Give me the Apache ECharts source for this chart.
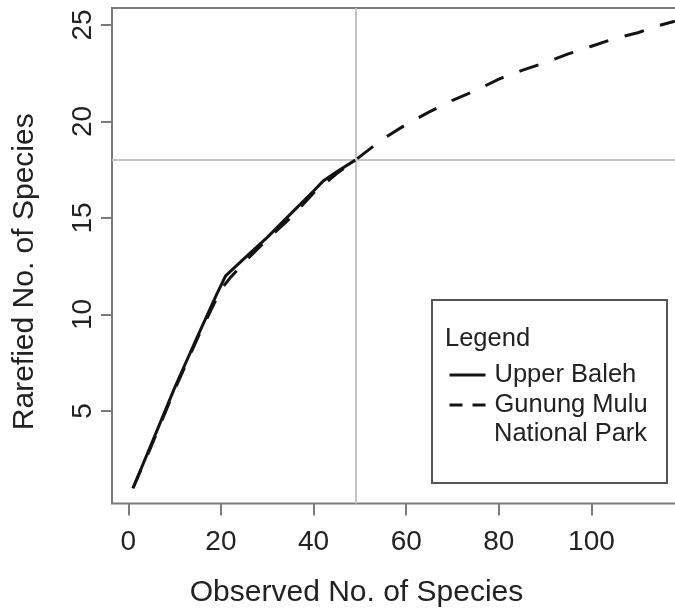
<!DOCTYPE html>
<html><head><meta charset="utf-8">
<script src="https://cdn.jsdelivr.net/npm/echarts@6/dist/echarts.min.js"></script>
<style>html,body{margin:0;padding:0;background:#fff}#c{width:675px;height:609px}</style>
</head><body><div id="c"></div>
<script>
// Upper Baleh (solid)
var baleh_x = [1, 5, 10, 15, 19, 21, 25, 30, 35, 40, 42, 45, 49];
var baleh_y = [1, 3.3, 6.2, 8.9, 11.0, 12.0, 12.9, 14.0, 15.2, 16.4, 16.9, 17.4, 18.0];
// Gunung Mulu National Park (dashed)
var mulu_x = [1, 5, 10, 15, 20, 22, 25, 30, 35, 40, 45, 49, 55, 60, 65, 70, 75, 80, 85, 90, 95, 100, 105, 110, 115, 118];
var mulu_y = [1, 3.2, 6.1, 8.8, 11.3, 11.9, 12.7, 13.9, 15.0, 16.3, 17.3, 18.0, 19.1, 19.85, 20.5, 21.1, 21.6, 22.2, 22.65, 23.05, 23.5, 23.9, 24.3, 24.6, 25.0, 25.2];
var xTicks = [0, 20, 40, 60, 80, 100];
var yTicks = [5, 10, 15, 20, 25];
var refX = 49, refY = 18;
var seriesNames = ['Upper Baleh', 'Gunung Mulu'];

function pairs(xs, ys){ return xs.map(function(x,i){ return [x, ys[i]]; }); }

var FONT = 'Liberation Sans, Arial, sans-serif';
var TXT = '#222';
var FRAME = '#7a7a7a';
var LINE = '#141414';

var chart = echarts.init(document.getElementById('c'), null, {renderer:'canvas'});
chart.setOption({
  animation: false,
  backgroundColor: '#fff',
  textStyle: {fontFamily: FONT},
  grid: {left: 112, right: -4, top: 8, bottom: 105.5, show: true, borderColor: FRAME, borderWidth: 2, containLabel: false, outerBoundsMode: 'none'},
  xAxis: {
    type: 'value', min: -3.52, max: 118.9,
    splitLine: {show: false},
    axisLine: {show: false, onZero: false},
    axisTick: {show: true, inside: false, length: 12, lineStyle: {color: FRAME, width: 2}, customValues: xTicks},
    axisLabel: {show: true, margin: 25, fontSize: 28, color: TXT, fontFamily: FONT, customValues: xTicks},
    name: 'Observed No. of Species', nameLocation: 'middle', nameGap: 74,
    nameTextStyle: {fontSize: 30, color: TXT, fontFamily: FONT, padding: [0, 78, 0, 0]}
  },
  yAxis: {
    type: 'value', min: 0.21, max: 25.88,
    splitLine: {show: false},
    axisLine: {show: false, onZero: false},
    axisTick: {show: true, inside: false, length: 11, lineStyle: {color: FRAME, width: 2}, customValues: yTicks},
    axisLabel: {show: true, rotate: 90, margin: 15, fontSize: 28, color: TXT, fontFamily: FONT, customValues: yTicks},
    name: 'Rarefied No. of Species', nameLocation: 'middle', nameGap: 72,
    nameTextStyle: {fontSize: 30, color: TXT, fontFamily: FONT, padding: [0, 32, 0, 0]}
  },
  legend: {
    orient: 'vertical', left: 443, top: 357, itemGap: 4, itemWidth: 36, itemHeight: 14,
    data: [
      {name: seriesNames[0], lineStyle: {type: 'solid', width: 3, color: LINE}},
      {name: seriesNames[1], lineStyle: {type: [13, 10], width: 3, color: LINE}}
    ],
    itemStyle: {opacity: 0},
    textStyle: {fontSize: 25.5, color: TXT, fontFamily: FONT, padding: [0, 0, 0, 4]},
    selectedMode: false
  },
  graphic: [
    {type: 'rect', shape: {x: 432, y: 300, width: 235, height: 183}, style: {fill: 'rgba(255,255,255,0)', stroke: '#555', lineWidth: 2}, z: 100},
    {type: 'text', x: 445, y: 339, style: {text: 'Legend', fontSize: 25.5, fill: TXT, fontFamily: FONT, verticalAlign: 'middle'}, z: 100},
    {type: 'text', x: 494, y: 434, style: {text: 'National Park', fontSize: 25.5, fill: TXT, fontFamily: FONT, verticalAlign: 'middle'}, z: 100}
  ],
  series: [
    {
      name: seriesNames[0], type: 'line', data: pairs(baleh_x, baleh_y), symbol: 'none', smooth: false,
      itemStyle: {color: LINE},
      lineStyle: {color: LINE, width: 3, type: 'solid'}, z: 3,
      markLine: {
        silent: true, symbol: ['none', 'none'], label: {show: false},
        lineStyle: {color: '#c4c4c4', width: 2, type: 'solid'},
        data: [{xAxis: refX}, {yAxis: refY}], z: 1
      }
    },
    {
      name: seriesNames[1], type: 'line', data: pairs(mulu_x, mulu_y), symbol: 'none', smooth: false,
      itemStyle: {color: LINE},
      lineStyle: {color: LINE, width: 3, type: [20, 17]}, z: 4
    }
  ]
});
</script></body></html>
